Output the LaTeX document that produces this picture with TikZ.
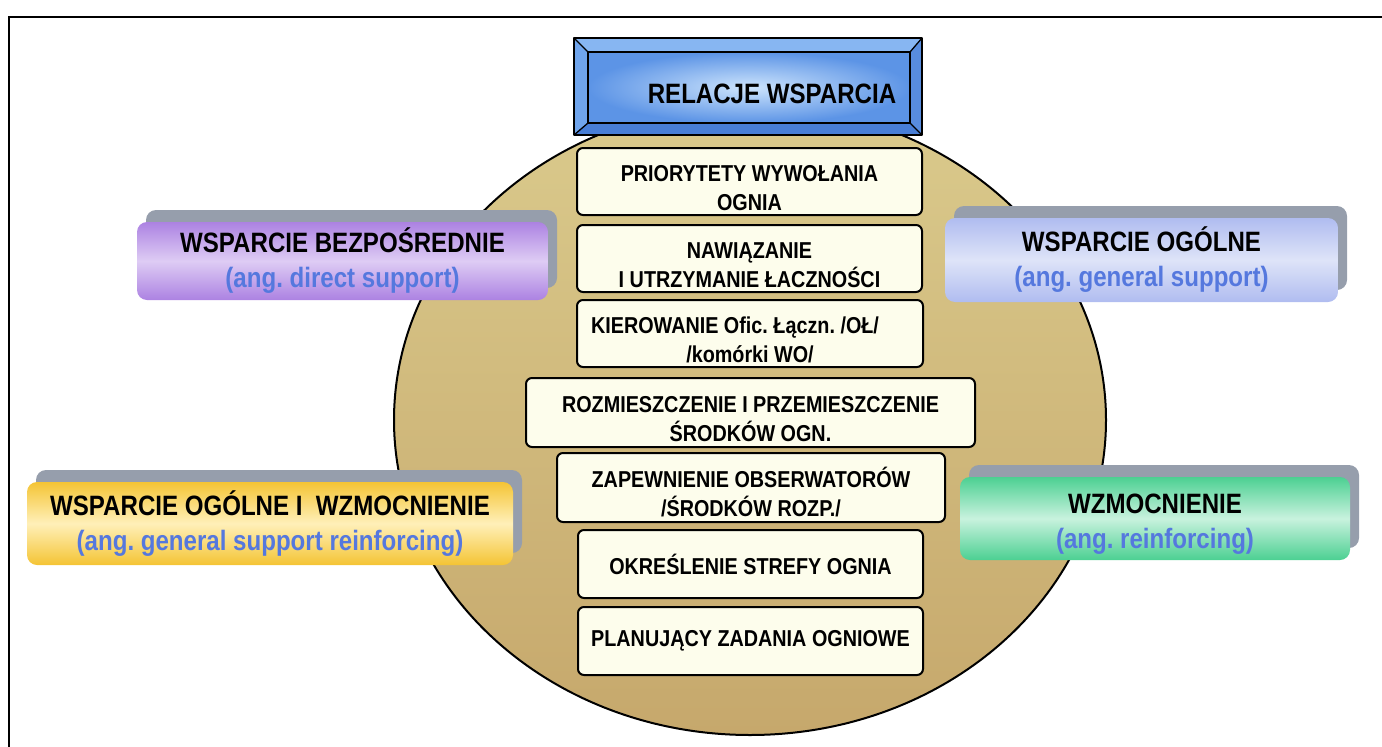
\documentclass[tikz,border=0pt]{standalone}
\usepackage{fontspec}
\setmainfont{Liberation Sans}[FakeStretch=0.86]
\usetikzlibrary{shadows}
\frenchspacing

\definecolor{ivory}{RGB}{253,253,236}
\definecolor{subblue}{RGB}{85,120,222}
\definecolor{shadowgrey}{RGB}{150,158,172}
\definecolor{tanlight}{RGB}{218,202,140}
\definecolor{tandark}{RGB}{198,168,108}
\definecolor{hdrface}{RGB}{205,228,252}
\definecolor{hdredge}{RGB}{92,148,230}
\definecolor{bevtop}{RGB}{135,182,242}
\definecolor{bevside}{RGB}{112,165,236}
\definecolor{bevright}{RGB}{88,140,222}
\definecolor{bevbot}{RGB}{72,126,214}
\definecolor{purpleedge}{RGB}{172,130,226}
\definecolor{purplemid}{RGB}{222,204,244}
\definecolor{lavedge}{RGB}{176,188,240}
\definecolor{lavmid}{RGB}{222,228,248}
\definecolor{goldedge}{RGB}{244,196,52}
\definecolor{goldmid}{RGB}{255,240,185}
\definecolor{greenedge}{RGB}{76,208,146}
\definecolor{greenmid}{RGB}{200,242,222}

\begin{document}
\begin{tikzpicture}[x=1pt,y=-1pt,
  sidebox/.style={rounded corners=10pt, align=center, inner sep=0pt,
    font=\fontsize{28}{35}\selectfont\bfseries,
    drop shadow={shadow xshift=9pt, shadow yshift=12pt, fill=shadowgrey, opacity=1}},
  itembox/.style={draw, line width=2pt, fill=ivory, rounded corners=6pt,
    align=center, inner sep=0pt, font=\fontsize{23}{29}\selectfont\bfseries},
  twoline/.style={text height=62pt, text depth=5pt},
  bevel/.style={line width=1.3pt, line join=round}]

\useasboundingbox (0,0) rectangle (1382,747);

% outer frame (top and left edges only)
\draw[line width=2.5pt] (9,747) -- (9,17) -- (1382,17);

% central disc
\path[draw=black, line width=2pt, top color=tanlight, bottom color=tandark]
  (750,420) ellipse [x radius=356, y radius=315];

% side boxes
\node[sidebox, minimum width=411pt, minimum height=78pt,
  top color=purpleedge, bottom color=purpleedge, middle color=purplemid]
  (direct) at (342.5,261)
  {WSPARCIE BEZPOŚREDNIE\\ \color{subblue}(ang. direct support)};

\node[sidebox, minimum width=393pt, minimum height=84pt,
  top color=lavedge, bottom color=lavedge, middle color=lavmid]
  (general) at (1141.5,260)
  {WSPARCIE OGÓLNE\\ \color{subblue}(ang. general support)};

\node[sidebox, minimum width=486pt, minimum height=83pt,
  top color=goldedge, bottom color=goldedge, middle color=goldmid]
  (gsr) at (270,523.5)
  {WSPARCIE OGÓLNE I\ \ WZMOCNIENIE\\ \color{subblue}(ang. general support reinforcing)};

\node[sidebox, minimum width=390pt, minimum height=83pt,
  top color=greenedge, bottom color=greenedge, middle color=greenmid,
  text height=64pt, text depth=4pt]
  (reinf) at (1155,518.5)
  {WZMOCNIENIE\\ \color{subblue}(ang. reinforcing)};

% items inside the disc
\node[itembox, twoline, minimum width=345pt, minimum height=67pt] (i1) at (749.5,181.5)
  {PRIORYTETY WYWOŁANIA\\ OGNIA};
\node[itembox, twoline, minimum width=345pt, minimum height=67pt] (i2) at (749.5,258.5)
  {NAWIĄZANIE\\ I UTRZYMANIE ŁACZNOŚCI};
\node[itembox, twoline, minimum width=346pt, minimum height=67pt] (i3) at (750,333.5)
  {KIEROWANIE Ofic. Łączn. /OŁ/\hspace*{30pt}\\ /komórki WO/};
\node[itembox, twoline, minimum width=449pt, minimum height=69pt] (i4) at (750.5,412.5)
  {ROZMIESZCZENIE I PRZEMIESZCZENIE\\ ŚRODKÓW OGN.};
\node[itembox, twoline, minimum width=388pt, minimum height=69pt] (i5) at (751,487.5)
  {ZAPEWNIENIE OBSERWATORÓW\\ /ŚRODKÓW ROZP./};
\node[itembox, minimum width=345pt, minimum height=68pt] (i6) at (750.5,564)
  {OKREŚLENIE STREFY OGNIA};
\node[itembox, minimum width=345pt, minimum height=68pt] (i7) at (750.5,641)
  {PLANUJĄCY ZADANIA OGNIOWE};

% bevelled title plate
\fill[bevtop]   (574,38) -- (922,38) -- (910,52) -- (588,52) -- cycle;
\fill[bevside]  (574,38) -- (588,52) -- (588,123) -- (574,135) -- cycle;
\fill[bevright] (922,38) -- (910,52) -- (910,123) -- (922,135) -- cycle;
\fill[bevbot]   (574,135) -- (588,123) -- (910,123) -- (922,135) -- cycle;
\draw[bevel] (574,38) rectangle (922,135);
\draw[bevel] (574,38) -- (588,52) (922,38) -- (910,52)
             (574,135) -- (588,123) (922,135) -- (910,123);
\node[draw, line width=1.3pt, inner sep=0pt, minimum width=322pt, minimum height=71pt,
  inner color=hdrface, outer color=hdredge] (plate) at (749,87.5) {};
\node[font=\fontsize{28}{34}\selectfont\bfseries, inner sep=0pt] (title) at (772,94)
  {RELACJE WSPARCIA};

\end{tikzpicture}
\end{document}
